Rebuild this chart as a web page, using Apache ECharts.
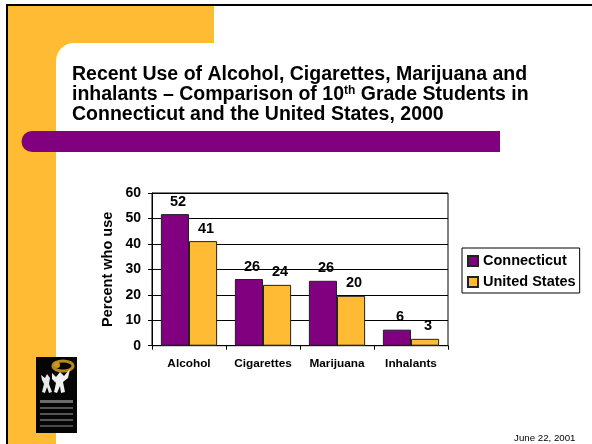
<!DOCTYPE html>
<html><head><meta charset="utf-8">
<script src="https://cdn.jsdelivr.net/npm/echarts@6/dist/echarts.min.js"></script>
<style>html,body{margin:0;padding:0;background:#fff}#c{width:592px;height:444px}</style>
</head><body><div id="c"></div>
<script>
const categories = ['Alcohol', 'Cigarettes', 'Marijuana', 'Inhalants'];
const connecticut = [51.7, 26.2, 25.5, 6.3];
const unitedStates = [41.1, 23.9, 19.6, 2.7];
const seriesNames = ['Connecticut', 'United States'];
const yMin = 0, yMax = 60, yStep = 10;
const titleLines = ['Recent Use of Alcohol, Cigarettes, Marijuana and', 'inhalants \u2013 Comparison of 10{sup|th} Grade Students in', 'Connecticut and the United States, 2000'];
const dateText = 'June 22, 2001';

const PURPLE = '#800080', ORANGE = '#FFBB33';
const FONT = '"Liberation Sans", Arial, sans-serif';
const chart = echarts.init(document.getElementById('c'), null, {renderer: 'canvas'});

const logo = [
  {type: 'rect', shape: {x: 36, y: 357, width: 41, height: 76}, style: {fill: '#050505'}},
  {type: 'ellipse', shape: {cx: 63, cy: 366, rx: 10, ry: 5}, style: {fill: 'none', stroke: '#B8891C', lineWidth: 3}},
  {type: 'circle', shape: {cx: 57, cy: 365, r: 3}, style: {fill: '#C99722'}},
  {type: 'polygon', shape: {points: [[41,375],[45,378],[47,374],[50,378],[49,384],[52,392],[49,393],[47,387],[45,393],[42,392],[44,384],[42,380]]}, style: {fill: '#e8e8e8'}},
  {type: 'polygon', shape: {points: [[52,373],[56,377],[60,372],[64,376],[70,369],[68,378],[63,382],[65,392],[61,393],[60,386],[57,393],[54,392],[56,383],[52,379]]}, style: {fill: '#f0f0f0'}},
  {type: 'rect', shape: {x: 40, y: 400, width: 33, height: 3}, style: {fill: '#6a6a6a'}},
  {type: 'rect', shape: {x: 40, y: 407, width: 33, height: 2}, style: {fill: '#555'}},
  {type: 'rect', shape: {x: 40, y: 413, width: 33, height: 2}, style: {fill: '#555'}},
  {type: 'rect', shape: {x: 40, y: 419, width: 33, height: 2}, style: {fill: '#555'}},
  {type: 'rect', shape: {x: 40, y: 425, width: 33, height: 2}, style: {fill: '#4a4a4a'}}
];

const labelStyle = {show: true, position: 'top', distance: 5, offset: [3, 0], color: '#000', fontFamily: FONT, fontSize: 14.5, fontWeight: 'bold', formatter: p => Math.round(p.value)};

const option = {
  backgroundColor: '#fff',
  animation: false,
  textStyle: {fontFamily: FONT},
  graphic: {
    elements: [
      {type: 'rect', z: -20, silent: true, shape: {x: 8, y: 6, width: 206, height: 80}, style: {fill: ORANGE}},
      {type: 'rect', z: -20, silent: true, shape: {x: 8, y: 6, width: 48, height: 440}, style: {fill: ORANGE}},
      {type: 'rect', z: -19, silent: true, shape: {x: 56, y: 43, width: 560, height: 420, r: [18, 0, 0, 0]}, style: {fill: '#fff'}},
      {type: 'rect', z: -18, silent: true, shape: {x: 6, y: 4, width: 590, height: 2}, style: {fill: '#000'}},
      {type: 'rect', z: -18, silent: true, shape: {x: 6, y: 4, width: 2, height: 442}, style: {fill: '#000'}},
      {type: 'rect', z: -17, silent: true, shape: {x: 21.5, y: 131, width: 478.5, height: 21, r: [10.5, 0, 0, 10.5]}, style: {fill: PURPLE}},
      {type: 'group', z: -16, silent: true, children: logo},
      {type: 'text', z: 5, silent: true, style: {x: 575.5, y: 438, text: dateText, fill: '#000', font: '9.7px ' + FONT, align: 'right', verticalAlign: 'middle'}}
    ]
  },
  title: {
    left: 72, top: 65, padding: 0,
    text: titleLines.join('\n'),
    textStyle: {
      fontFamily: FONT, fontSize: 19.5, fontWeight: 'bold', color: '#000', lineHeight: 20,
      rich: {sup: {fontFamily: FONT, fontSize: 12, fontWeight: 'bold', color: '#000', verticalAlign: 'top', lineHeight: 20, padding: [0, 0, 7, 0]}}
    }
  },
  legend: {
    orient: 'vertical', left: 462, top: 248,
    padding: [5, 4, 3, 5], itemGap: 5,
    itemWidth: 10, itemHeight: 10,
    borderColor: '#000', borderWidth: 1,
    backgroundColor: '#fff',
    icon: 'rect',
    data: seriesNames,
    textStyle: {fontFamily: FONT, fontSize: 14.5, fontWeight: 'bold', color: '#000', lineHeight: 16}
  },
  grid: {left: 152, right: 144, top: 193, bottom: 98.3, show: true, borderColor: '#000', borderWidth: 1, containLabel: false},
  xAxis: {
    type: 'category', data: categories,
    axisLine: {lineStyle: {color: '#000', width: 1}},
    axisTick: {show: true, length: 4, lineStyle: {color: '#000'}},
    axisLabel: {interval: 0, color: '#000', fontFamily: FONT, fontSize: 11.8, fontWeight: 'bold', margin: 12}
  },
  yAxis: {
    type: 'value', min: yMin, max: yMax, interval: yStep,
    name: 'Percent who use', nameLocation: 'middle', nameGap: 37,
    nameTextStyle: {color: '#000', fontFamily: FONT, fontSize: 14.5, fontWeight: 'bold'},
    axisLine: {show: true, lineStyle: {color: '#000', width: 1}},
    axisTick: {show: true, length: 4, lineStyle: {color: '#000'}},
    splitLine: {lineStyle: {color: '#000', width: 1}},
    axisLabel: {color: '#000', fontFamily: FONT, fontSize: 14, fontWeight: 'bold', margin: 11}
  },
  series: [
    {name: seriesNames[0], type: 'bar', data: connecticut, barGap: '0%', barCategoryGap: '24%',
     itemStyle: {color: PURPLE, borderColor: '#222', borderWidth: 1}, label: labelStyle},
    {name: seriesNames[1], type: 'bar', data: unitedStates, barGap: '0%', barCategoryGap: '24%',
     itemStyle: {color: ORANGE, borderColor: '#222', borderWidth: 1}, label: labelStyle}
  ]
};
chart.setOption(option);
</script></body></html>
